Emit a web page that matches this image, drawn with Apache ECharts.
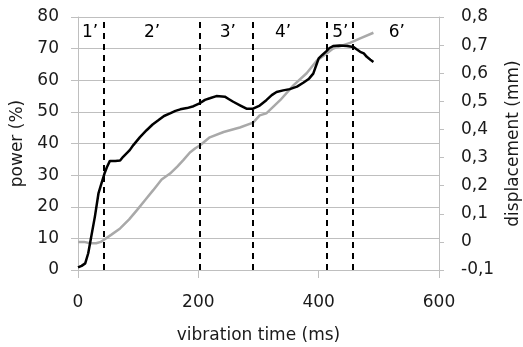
<!DOCTYPE html>
<html>
<head>
<meta charset="utf-8">
<script src="https://cdn.jsdelivr.net/npm/echarts@6/dist/echarts.min.js"></script>
<style>html,body{margin:0;padding:0;background:#fff}#c{width:523px;height:347px}</style>
</head>
<body>
<div id="c"></div>
<script>
// power (%) vs vibration time (ms)
const powerTime = [0, 6, 12, 17, 21, 28, 34, 39, 44, 48, 53, 62, 70, 75, 86, 92, 103, 114, 124, 134, 143, 153, 162, 170, 181, 192, 203, 211, 219, 230, 244, 251, 258, 270, 280, 291, 302, 313, 322, 330, 341, 352, 364, 375, 384, 391, 397, 400, 406, 413, 418, 424, 435, 447, 458, 463, 469, 475, 480, 486, 491];
const powerValues = [0.8, 1.3, 2.1, 5.3, 9.5, 16.8, 24.2, 27.4, 30.5, 32.5, 34.5, 34.5, 34.6, 35.8, 37.9, 39.5, 42, 44.2, 46, 47.4, 48.7, 49.5, 50.3, 50.8, 51.2, 51.8, 52.8, 53.8, 54.3, 55, 54.8, 54, 53.2, 52, 51, 51, 52, 53.7, 55.3, 56.3, 56.8, 57.2, 58, 59.3, 60.5, 62.1, 65.3, 66.9, 68, 69.2, 70.2, 70.8, 71, 70.8, 70.5, 69.8, 69, 68.5, 67.4, 66.5, 65.8];
// displacement (mm) vs vibration time (ms)
const dispTime = [0, 10, 20, 30, 38, 42, 55, 70, 85, 98, 112, 125, 139, 153, 165, 175, 186, 195, 203, 219, 242, 269, 291, 302, 313, 336, 358, 380, 397, 410, 424, 452, 469, 491];
const dispValues = [0, 0, -0.005, -0.005, 0, 0.006, 0.025, 0.048, 0.08, 0.113, 0.15, 0.184, 0.222, 0.243, 0.268, 0.291, 0.318, 0.333, 0.344, 0.372, 0.391, 0.407, 0.424, 0.45, 0.457, 0.504, 0.557, 0.6, 0.645, 0.665, 0.6875, 0.708, 0.724, 0.744];
// phase boundaries (ms) and phase labels
const phaseBoundaries = [43, 203, 290, 413, 456];
const phaseLabels = ['1’', '2’', '3’', '4’', '5’', '6’'];
const phaseLabelX = [20, 123, 249, 341, 436, 530];
const phaseLabelY = 75;
// axis ticks
const xTicks = [0, 200, 400, 600];
const powerTicks = [0, 10, 20, 30, 40, 50, 60, 70, 80];
const dispTicks = [-0.1, 0, 0.1, 0.2, 0.3, 0.4, 0.5, 0.6, 0.7, 0.8];

const FONT = 'DejaVu Sans';
const FS = 17;
const GRID = '#bfbfbf';
const TXT = '#1a1a1a';

const chart = echarts.init(document.getElementById('c'), null, {renderer: 'canvas'});
chart.setOption({
  animation: false,
  backgroundColor: '#fff',
  textStyle: {fontFamily: FONT},
  grid: {left: 78, right: 84, top: 17, bottom: 77, containLabel: false, outerBoundsMode: 'none'},
  xAxis: {
    type: 'value', min: xTicks[0], max: xTicks[xTicks.length - 1], interval: xTicks[1] - xTicks[0],
    name: 'vibration time (ms)', nameLocation: 'middle', nameGap: 57,
    nameTextStyle: {fontSize: FS, color: TXT, fontFamily: FONT},
    axisLine: {show: true, lineStyle: {color: GRID, width: 1}},
    axisTick: {show: true, length: 8, inside: false, lineStyle: {color: GRID}},
    axisLabel: {fontSize: FS, color: TXT, margin: 24, fontFamily: FONT},
    splitLine: {show: false}
  },
  yAxis: [{
    type: 'value', min: powerTicks[0], max: powerTicks[powerTicks.length - 1], interval: 10,
    name: 'power (%)', nameLocation: 'middle', nameGap: 52, nameRotate: 90,
    nameTextStyle: {fontSize: FS, color: TXT, fontFamily: FONT},
    axisLine: {show: true, lineStyle: {color: GRID, width: 1}},
    axisTick: {show: true, length: 7, lineStyle: {color: GRID}},
    axisLabel: {fontSize: FS, color: TXT, margin: 19, fontFamily: FONT},
    splitLine: {show: true, lineStyle: {color: GRID, width: 1}}
  }, {
    type: 'value', position: 'right', min: dispTicks[0], max: dispTicks[dispTicks.length - 1], interval: 0.1,
    name: 'displacement (mm)', nameLocation: 'middle', nameGap: 66, nameRotate: 90,
    nameTextStyle: {fontSize: FS, color: TXT, fontFamily: FONT},
    axisLine: {show: true, lineStyle: {color: GRID, width: 1}},
    axisTick: {show: true, length: 5, lineStyle: {color: GRID}},
    axisLabel: {fontSize: FS, color: TXT, margin: 22, fontFamily: FONT,
      formatter: v => { const r = Math.round(v * 10) / 10; return r === 0 ? '0' : String(r).replace('.', ','); }},
    splitLine: {show: false}
  }],
  series: [{
    name: 'displacement', type: 'line', yAxisIndex: 1, showSymbol: false, symbol: 'none',
    data: dispTime.map((t, i) => [t, dispValues[i]]),
    lineStyle: {color: '#a9a9a9', width: 2.5}, z: 2
  }, {
    name: 'power', type: 'line', yAxisIndex: 0, showSymbol: false, symbol: 'none',
    data: powerTime.map((t, i) => [t, powerValues[i]]),
    lineStyle: {color: '#000', width: 2.5}, z: 3,
    markLine: {
      silent: true, symbol: 'none', animation: false,
      label: {show: false},
      lineStyle: {color: '#000', width: 2, type: [6, 5]},
      data: phaseBoundaries.map(x => ({xAxis: x}))
    }
  }, {
    name: 'phases', type: 'custom', yAxisIndex: 0, silent: true, clip: false,
    data: phaseLabels.map((l, i) => [phaseLabelX[i], phaseLabelY, i]),
    renderItem: (params, api) => {
      const p = api.coord([api.value(0), api.value(1)]);
      return {
        type: 'text', x: p[0], y: p[1],
        style: {text: phaseLabels[api.value(2)], fill: '#000', font: FS + 'px "' + FONT + '"',
          align: 'center', verticalAlign: 'middle'}
      };
    },
    z: 4
  }]
});
</script>
</body>
</html>
